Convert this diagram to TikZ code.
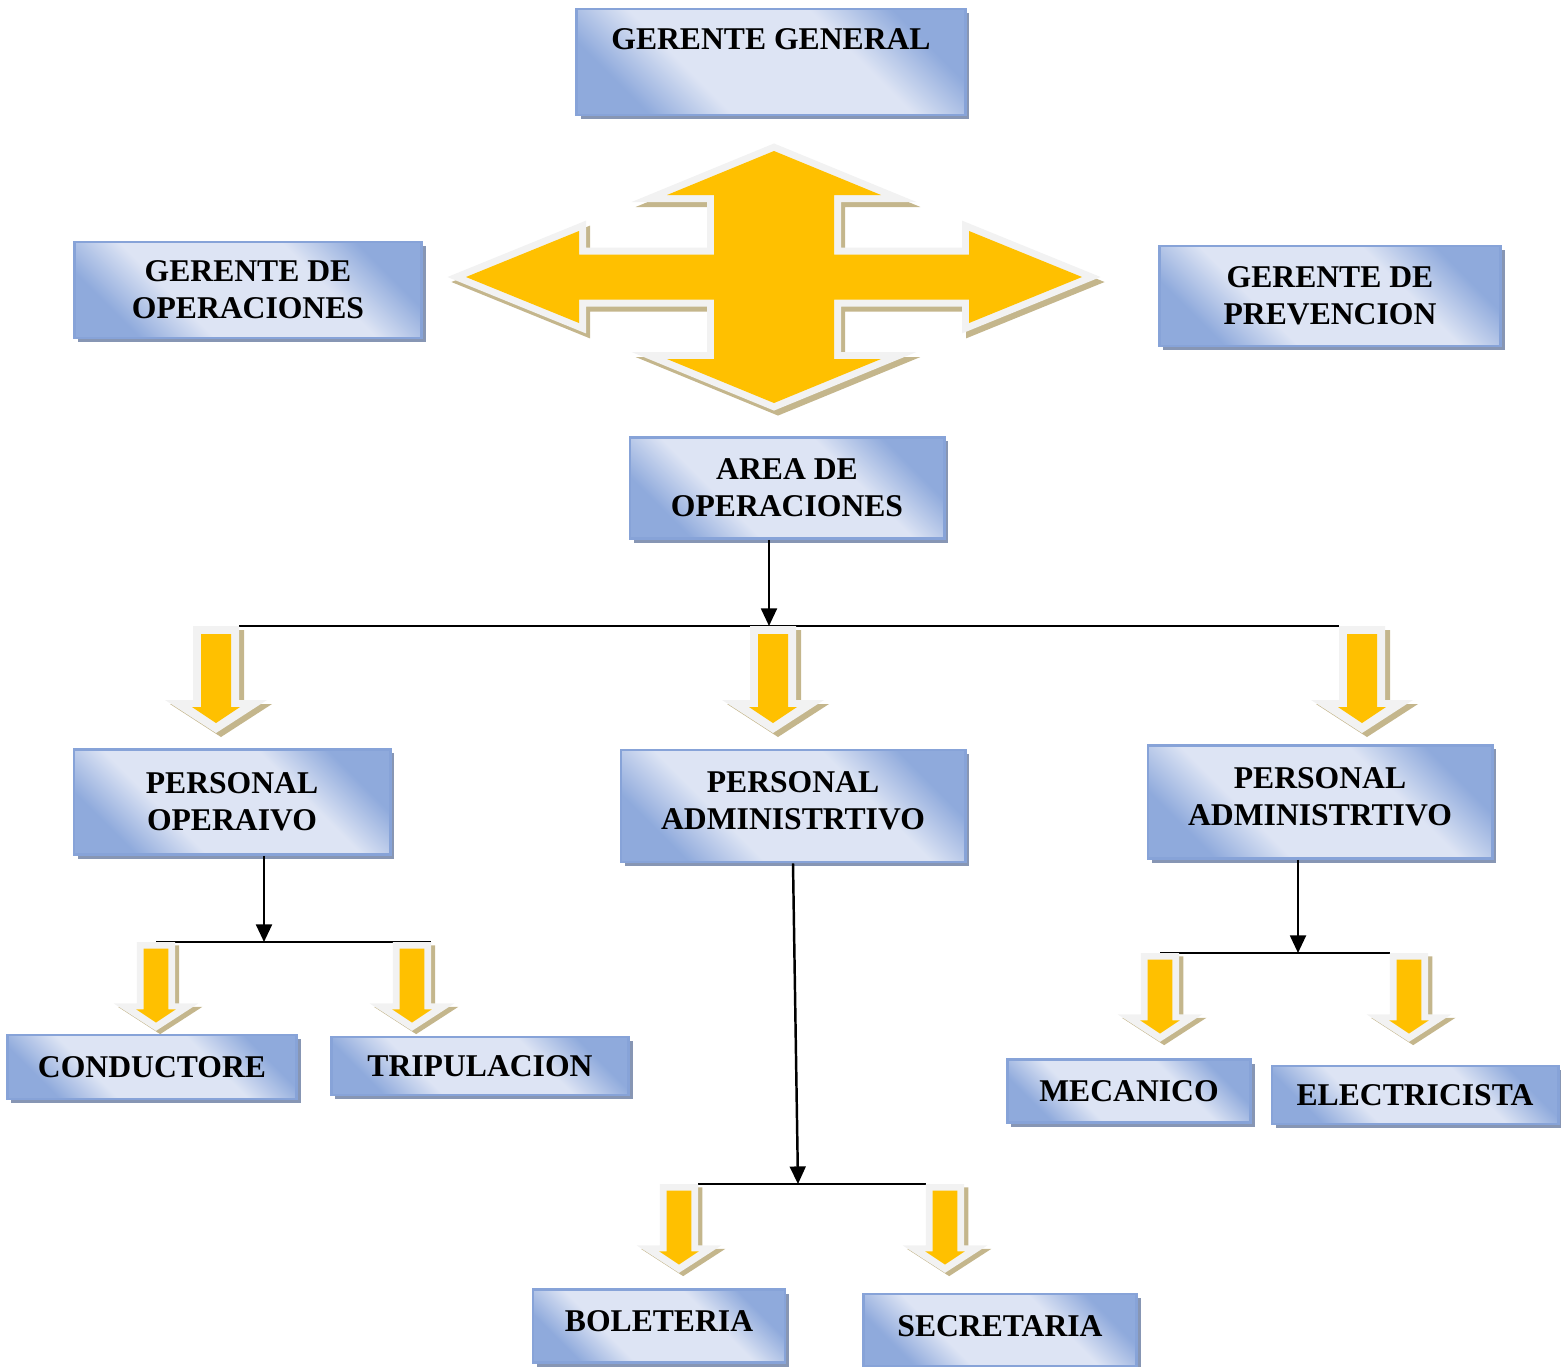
\documentclass[tikz,border=0pt]{standalone}
\usepackage{fontspec}
\setmainfont{Liberation Serif}
\usetikzlibrary{arrows.meta,shadows,backgrounds}
\definecolor{boxlight}{RGB}{221,228,244}
\definecolor{boxdark}{RGB}{143,170,220}
\definecolor{boxedge}{RGB}{135,163,216}
\definecolor{boxshadow}{RGB}{135,150,180}
\definecolor{crossyellow}{RGB}{255,192,0}
\definecolor{crosswhite}{RGB}{242,242,242}
\definecolor{crosstan}{RGB}{196,182,140}

\pgfdeclareverticalshading{cajashade}{100bp}{color(0bp)=(boxdark); color(25bp)=(boxdark);
  color(37bp)=(boxlight); color(63bp)=(boxlight); color(75bp)=(boxdark); color(100bp)=(boxdark)}

% block arrow: name, x, y (top), scale
\newcommand{\flecha}[4]{%
  \begin{scope}[shift={(#2,#3)}, scale=#4]
    \fill[crosstan] (-18,4) -- (28,4) -- (28,78) -- (56,78) -- (5,111) -- (-46,78) -- (-18,78) -- cycle;
    \fill[crosswhite] (-23,0) -- (23,0) -- (23,74) -- (51,74) -- (0,107) -- (-51,74) -- (-23,74) -- cycle;
    \fill[crossyellow] (-15,8) -- (15,8) -- (15,81) -- (24,81) -- (0,97) -- (-24,81) -- (-15,81) -- cycle;
    \coordinate (#1) at (0,0);
    \coordinate (#1-l) at (-23,0);
    \coordinate (#1-r) at (23,0);
  \end{scope}}

\begin{document}
\begin{tikzpicture}[
    x=0.01cm, y=-0.01cm,
    caja/.style={rectangle, draw=boxedge, line width=0.8pt, inner sep=0pt, align=center,
        font=\bfseries\fontsize{9}{10.5}\selectfont,
        shading=cajashade, shading angle=-45,
        drop shadow={shadow xshift=0.04cm, shadow yshift=-0.04cm, fill=boxshadow, opacity=1}},
    linea/.style={line width=0.7pt},
    conector/.style={linea, -{Triangle[length=5pt,width=4.5pt]}}
]
\useasboundingbox (0,0) rectangle (1561,1366);

% Cross arrow
\begin{scope}[shift={(774,277)}]
\path[preaction={draw=crosstan, line width=0.14cm, transform canvas={xshift=0.04cm, yshift=-0.05cm}},
      preaction={draw=crosswhite, line width=0.14cm},
      fill=crossyellow]
    (-308,0) -- (-195,-46) -- (-195,-22.5) -- (-60,-22.5) -- (-60,-82) -- (-107,-82) -- (0,-126)
    -- (107,-82) -- (60,-82) -- (60,-22.5) -- (195,-22.5) -- (195,-46) -- (308,0)
    -- (195,46) -- (195,22.5) -- (60,22.5) -- (60,82) -- (107,82) -- (0,126)
    -- (-107,82) -- (-60,82) -- (-60,22.5) -- (-195,22.5) -- (-195,46) -- cycle;
\end{scope}

% Gerencia
\node[caja, minimum width=3.88cm, minimum height=1.06cm] (gergen) at (771,62) {GERENTE GENERAL\\[2.3pt]~};
\node[caja, minimum width=3.47cm, minimum height=0.96cm] (gerope) at (248,290) {GERENTE DE\\OPERACIONES};
\node[caja, minimum width=3.41cm, minimum height=1.00cm] (gerpre) at (1330,296) {GERENTE DE\\PREVENCION};
\node[caja, minimum width=3.14cm, minimum height=1.01cm] (area) at (787,488) {AREA DE\\OPERACIONES};

% Personal
\node[caja, minimum width=3.16cm, minimum height=1.05cm] (perope) at (232,802) {PERSONAL\\OPERAIVO};
\node[caja, minimum width=3.44cm, minimum height=1.12cm] (admcen) at (793,806) {PERSONAL\\ADMINISTRTIVO\\[-7.6pt]~};
\node[caja, minimum width=3.44cm, minimum height=1.13cm] (admder) at (1320,802) {PERSONAL\\ADMINISTRTIVO\\[-7.6pt]~};

% Cargos
\node[caja, minimum width=2.89cm, minimum height=0.64cm] (condu) at (152,1067) {CONDUCTORE};
\node[caja, minimum width=2.97cm, minimum height=0.58cm] (tripu) at (480,1066) {TRIPULACION};
\node[caja, minimum width=2.43cm, minimum height=0.63cm] (meca) at (1129,1091) {MECANICO};
\node[caja, minimum width=2.86cm, minimum height=0.58cm] (elec) at (1415,1095) {ELECTRICISTA};
\node[caja, minimum width=2.52cm, minimum height=0.73cm] (bole) at (659,1326) {BOLETERIA\\[-7.6pt]~};
\node[caja, minimum width=2.73cm, minimum height=0.72cm] (secre) at (1000,1330) {SECRETARIA\\[-8.5pt]~};

% Block arrows
\flecha{fope}{216}{626}{1}
\flecha{fadm}{773}{626}{1}
\flecha{fadd}{1362}{626}{1}
\flecha{fcon}{156}{942}{0.83}
\flecha{ftri}{412}{942}{0.83}
\flecha{fmec}{1160}{953}{0.83}
\flecha{fele}{1409}{953}{0.83}
\flecha{fbol}{679}{1184}{0.83}
\flecha{fsec}{945}{1184}{0.83}

% Junctions
\coordinate (jarea) at (769,626);
\coordinate (jope) at (264,942);
\coordinate (jadd) at (1298,953);
\coordinate (jadm) at (798,1184);

\draw[conector] (area.south -| jarea) -- (jarea);
\draw[conector] (perope.south -| jope) -- (jope);
\draw[conector] (admcen.south) -- (jadm);
\draw[conector] (admder.south -| jadd) -- (jadd);

\begin{scope}[on background layer]
\draw[linea] (fope-r) -- (fadd-l);
\draw[linea] (fcon) -- (ftri-r);
\draw[linea] (fmec) -- (fele-l);
\draw[linea] (fbol-r) -- (fsec-l);
\end{scope}

\end{tikzpicture}
\end{document}
